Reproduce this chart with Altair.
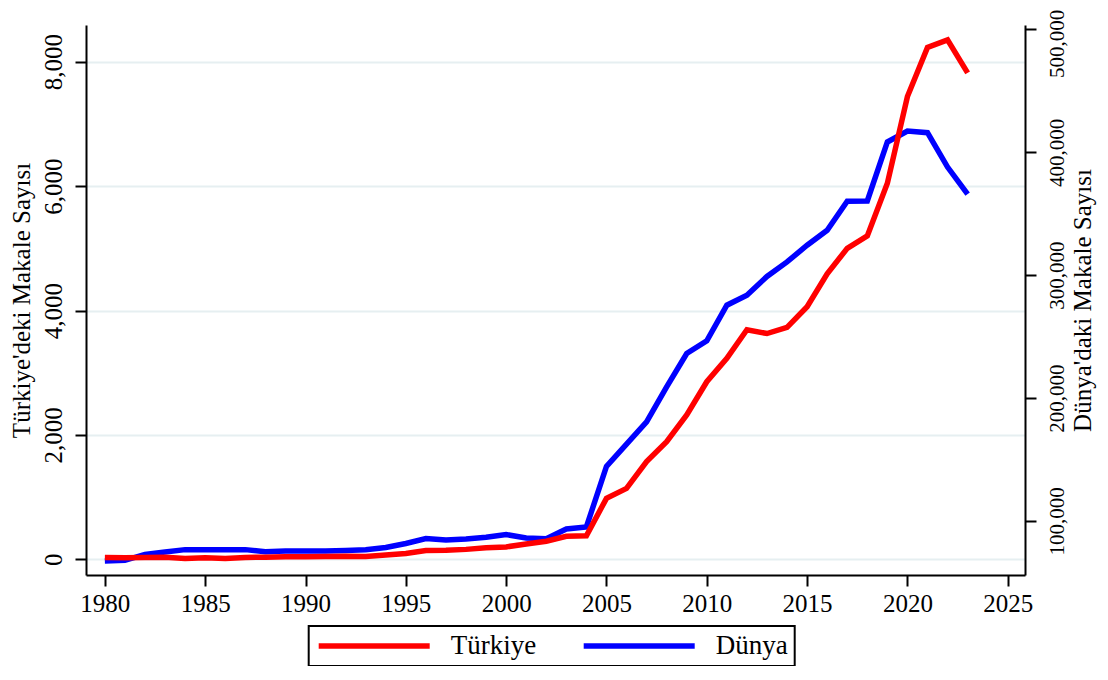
import altair as alt
import pandas as pd

years = list(range(1980, 2024))

turkiye = [30, 25, 30, 35, 15, 25, 15, 30, 35, 40,
           40, 45, 50, 45, 70, 95, 140, 145, 160, 185,
           200, 245, 290, 370, 380, 980, 1140, 1570, 1890, 2320,
           2855, 3230, 3690, 3630, 3730, 4060, 4590, 5000, 5200, 6045,
           7440, 8230, 8350, 7820]

dunya = [67500, 68000, 72800, 74700, 76700, 76700, 76700, 76700, 75000, 75500,
         75500, 75500, 76000, 76700, 78400, 81700, 85700, 84600, 85300, 86700,
         89000, 86200, 85600, 93500, 95200, 144500, 162600, 180700, 209200, 236300,
         246600, 275600, 283700, 299000, 310800, 324400, 336600, 360200, 360400, 408400,
         417300, 416000, 388000, 365900]

series_names = ["Türkiye", "Dünya"]
series_colors = ["#ff0000", "#0000ff"]

x_ticks = list(range(1980, 2026, 5))
left_ticks = [0, 2000, 4000, 6000, 8000]
right_ticks = [100000, 200000, 300000, 400000, 500000]

left_title = "Türkiye'deki Makale Sayısı"
right_title = "Dünya'daki Makale Sayısı"

df_tr = pd.DataFrame({"year": years, "value": turkiye, "series": series_names[0]})
df_dn = pd.DataFrame({"year": years, "value": dunya, "series": series_names[1]})

FONT = "Liberation Serif"

x_enc = alt.X(
    "year:Q",
    scale=alt.Scale(domain=[1979.06, 2025.86], nice=False, zero=False),
    axis=alt.Axis(values=x_ticks, format="d", title=None, grid=False,
                  labelAngle=0, labelPadding=5),
)

legend = alt.Legend(
    title=None, orient="none", legendX=222.7, legendY=601,
    direction="horizontal", symbolType="stroke", symbolSize=12321,
    symbolStrokeWidth=5.5, clipHeight=26, labelFont=FONT, labelFontSize=27,
    labelColor="black", labelOffset=18, columnPadding=44, padding=7,
    strokeColor="black", fillColor="white",
)

color_enc = alt.Color(
    "series:N",
    scale=alt.Scale(domain=series_names, range=series_colors),
    legend=legend,
)

right_layer = alt.Chart(df_dn).mark_line(strokeWidth=5.5).encode(
    x=x_enc,
    y=alt.Y(
        "value:Q",
        scale=alt.Scale(domain=[56060, 503580], nice=False, zero=False),
        axis=alt.Axis(orient="right", values=right_ticks, format=",d",
                      title=right_title, labelAngle=270, labelAlign="center",
                      labelBaseline="top", labelPadding=10, labelFontSize=21,
                      labelOffset={"condition": {"test": "datum.value == 500000", "value": 14}, "value": 0},
                      grid=False,
                      titleAngle=270, titleBaseline="top", titlePadding=3),
    ),
    color=color_enc,
)

left_layer = alt.Chart(df_tr).mark_line(strokeWidth=5.5).encode(
    x=x_enc,
    y=alt.Y(
        "value:Q",
        scale=alt.Scale(domain=[-252, 8590], nice=False, zero=False),
        axis=alt.Axis(orient="left", values=left_ticks, format=",d",
                      title=left_title, labelAngle=270, labelAlign="center",
                      labelBaseline="bottom", labelPadding=9, grid=True,
                      gridColor="#e6eff1", gridWidth=2,
                      titleAngle=270, titleBaseline="bottom", titlePadding=7),
    ),
    color=color_enc,
)

chart = (
    alt.layer(right_layer, left_layer)
    .resolve_scale(y="independent")
    .properties(
        width=939, height=550,
        autosize=alt.AutoSizeParams(type="none"),
        padding={"left": 78, "top": 17, "right": 75, "bottom": 91},
        background="white",
    )
    .configure_view(stroke=None)
    .configure_axis(
        labelFont=FONT, labelFontSize=25, labelColor="black",
        titleFont=FONT, titleFontSize=25, titleFontWeight="normal", titleColor="black",
        domainColor="black", domainWidth=2,
        tickColor="black", tickWidth=2, tickSize=11,
    )
    .configure_legend(strokeWidth=2)
)

chart.save("out.html", embed_options={"renderer": "svg", "actions": False})
